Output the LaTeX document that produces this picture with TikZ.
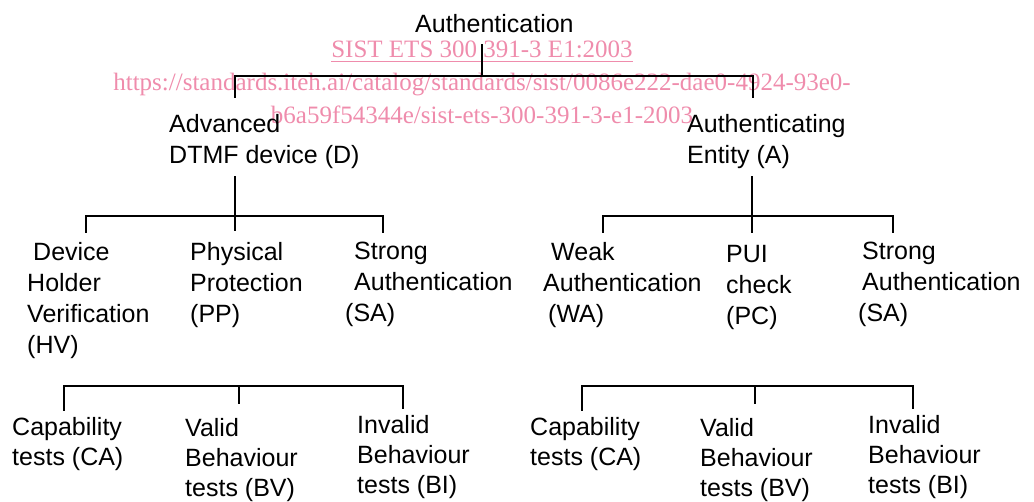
\documentclass[tikz,border=0pt]{standalone}
\usepackage{fontspec}
\setmainfont{Liberation Sans}
\newfontfamily\wmfont{Liberation Serif}
\definecolor{wmpink}{RGB}{239,140,172}
\begin{document}
\begin{tikzpicture}[x=1pt,y=-1pt,
  lbl/.style={anchor=north west, inner sep=0pt, align=left, font=\fontsize{25}{31}\selectfont},
  lbls/.style={anchor=north west, inner sep=0pt, align=left, font=\fontsize{25}{30}\selectfont},
  wm/.style={anchor=base, inner sep=0pt, text=wmpink, font=\wmfont\fontsize{25}{30}\selectfont},
  link/.style={line width=2.2pt, line cap=rect},
]
\useasboundingbox (0,0) rectangle (1034,501);

% watermark
\node[wm] (sist) at (482,57) {SIST ETS 300 391-3 E1:2003};
\draw[wmpink, line width=1pt] ([yshift=-4pt]sist.base west) -- ([yshift=-4pt]sist.base east);
\node[wm] (url1) at (482,90) {https://standards.iteh.ai/catalog/standards/sist/0086e222-dae0-4924-93e0-};
\node[wm] (url2) at (482,123) {b6a59f54344e/sist-ets-300-391-3-e1-2003};

% labels
\node[lbl] (auth) at (415,14) {Authentication};
\node[lbl] (dev) at (169,114.5) {Advanced\\DTMF device (D)};
\node[lbl] (ent) at (687,114.5) {Authenticating\\Entity (A)};

\node[lbl] (hv) at (27,242) {\hspace*{6pt}Device\\Holder\\Verification\\(HV)};
\node[lbl] (pp) at (190,242) {Physical\\Protection\\(PP)};
\node[lbl] (sa1) at (345,242) {\hspace*{9pt}Strong\\\hspace*{9pt}Authentication\\(SA)};
\node[lbl] (wa) at (543,242) {\hspace*{8pt}Weak\\Authentication\\\hspace*{5pt}(WA)};
\node[lbl] (pc) at (726,245) {PUI\\check\\(PC)};
\node[lbl] (sa2) at (858,242) {\hspace*{4pt}Strong\\\hspace*{4pt}Authentication\\(SA)};

\node[lbls] (ca1) at (12,417) {Capability\\tests (CA)};
\node[lbls] (bv1) at (185,418) {Valid\\Behaviour\\tests (BV)};
\node[lbls] (bi1) at (357,415) {Invalid\\Behaviour\\tests (BI)};
\node[lbls] (ca2) at (530,417) {Capability\\tests (CA)};
\node[lbls] (bv2) at (700,418) {Valid\\Behaviour\\tests (BV)};
\node[lbls] (bi2) at (868,415) {Invalid\\Behaviour\\tests (BI)};

% tree coordinates
\coordinate (t0) at (482,45);
\coordinate (tj) at (482,76);
\coordinate (tl) at (235,76);
\coordinate (tr) at (753,76);
\coordinate (tld) at (235,97);
\coordinate (trd) at (753,97);
\draw[link] (t0) -- (tj);
\draw[link] (tld) -- (tl) -- (tr) -- (trd);

% level 2 left
\coordinate (l0) at (235,177);
\coordinate (lj) at (235,216);
\coordinate (la) at (86,216);
\coordinate (lb) at (383,216);
\coordinate (lad) at (86,232);
\coordinate (lmd) at (235,230);
\coordinate (lbd) at (383,232);
\draw[link] (l0) -- (lmd);
\draw[link] (lad) -- (la) -- (lb) -- (lbd);

% level 2 right
\coordinate (r0) at (752,177);
\coordinate (rj) at (752,216);
\coordinate (ra) at (603,216);
\coordinate (rb) at (893,216);
\coordinate (rad) at (603,232);
\coordinate (rmd) at (752,232);
\coordinate (rbd) at (893,232);
\draw[link] (r0) -- (rmd);
\draw[link] (rad) -- (ra) -- (rb) -- (rbd);

% level 3 left
\coordinate (pa) at (64,386);
\coordinate (pb) at (403,386);
\coordinate (pm) at (239,386);
\coordinate (pad) at (64,410);
\coordinate (pmd) at (239,403);
\coordinate (pbd) at (403,408);
\draw[link] (pad) -- (pa) -- (pb) -- (pbd);
\draw[link] (pm) -- (pmd);

% level 3 right
\coordinate (qa) at (582,386);
\coordinate (qb) at (913,386);
\coordinate (qm) at (755,386);
\coordinate (qad) at (582,410);
\coordinate (qmd) at (755,403);
\coordinate (qbd) at (913,408);
\draw[link] (qad) -- (qa) -- (qb) -- (qbd);
\draw[link] (qm) -- (qmd);
\end{tikzpicture}
\end{document}
